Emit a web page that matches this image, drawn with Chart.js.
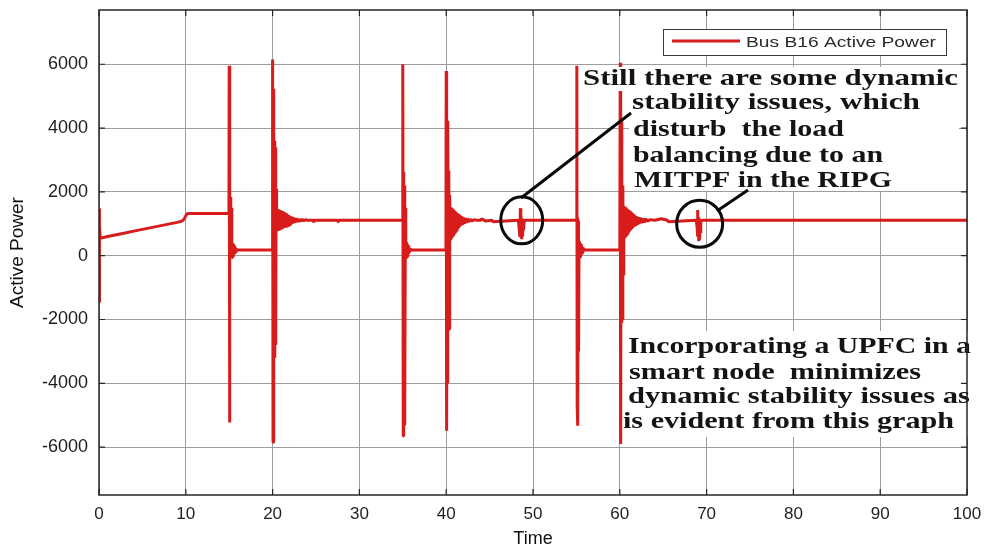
<!DOCTYPE html>
<html>
<head>
<meta charset="utf-8">
<script src="https://cdn.jsdelivr.net/npm/chart.js@4.4.1/dist/chart.umd.min.js"></script>
<style>
html,body{margin:0;padding:0;background:#fff;}
#wrap{width:989px;height:547px;position:relative;}
</style>
</head>
<body>
<div id="wrap"><canvas id="c" width="989" height="547"></canvas></div>
<script>
// Axis ticks
const timeTicks = [0, 10, 20, 30, 40, 50, 60, 70, 80, 90, 100];
const powerTicks = [-6000, -4000, -2000, 0, 2000, 4000, 6000];

// Bus B16 active power, one pair of arrays per switching event (time, power)
const startT = [0, 0.02, 0.05, 0.08, 0.15, 1, 2, 3, 4, 5, 6, 7, 8, 9, 9.4, 9.7, 9.9, 10.1, 10.3, 14.97];
const startP = [600, 1480, -1470, 900, 545, 600, 655, 710, 770, 825, 880, 935, 990, 1045, 1070, 1110, 1200, 1300, 1325, 1325];

const ev15T = [15.0, 15.04, 15.08, 15.12, 15.16, 15.2, 15.24, 15.28, 15.32, 15.36, 15.4, 15.44, 15.48, 15.52, 15.56, 15.6, 15.64, 15.68, 15.72, 15.78, 15.84, 15.9, 16.0, 19.97];
const ev15P = [5950, -5230, 1850, 280, 1840, 300, 1500, -80, 420, -60, 400, -20, 360, 20, 320, 60, 290, 90, 260, 130, 220, 170, 180, 180];

const ev20T = [20.0, 20.05, 20.1, 20.15, 20.2, 20.25, 20.3, 20.35, 20.4, 20.46, 20.52, 20.58, 20.64, 20.7, 20.76, 20.82, 20.88, 20.94,
               21.0, 21.06, 21.12, 21.18, 21.24, 21.3, 21.36, 21.42, 21.48, 21.54, 21.6, 21.66, 21.72, 21.78, 21.84, 21.9, 21.96, 22.02,
               22.1, 22.2, 22.3, 22.4, 22.5, 22.6, 22.75, 22.9, 23.05, 23.2, 23.4, 23.6, 23.8, 24.0, 24.7, 24.75, 24.8, 27.5, 27.55, 27.6, 34.97];
const ev20P = [6150, -5850, 5230, -3250, 3600, -3200, 3400, -2800, 2100, 760, 1460, 770, 1450, 780, 1430, 800, 1420, 810,
               1400, 830, 1390, 850, 1370, 870, 1350, 880, 1330, 900, 1310, 920, 1290, 940, 1270, 960, 1250, 980,
               1230, 1000, 1210, 1020, 1190, 1040, 1170, 1060, 1150, 1080, 1140, 1090, 1130, 1110, 1110, 1040, 1110, 1110, 1060, 1110, 1110];

const ev35T = [35.0, 35.05, 35.1, 35.15, 35.2, 35.25, 35.3, 35.34, 35.38, 35.42, 35.46, 35.5, 35.54, 35.58, 35.62, 35.66, 35.7, 35.76, 35.82, 35.9, 36.0, 39.97];
const ev35P = [6000, -5650, 2620, -5300, 2200, -4800, 1500, -100, 420, -70, 400, -30, 360, 10, 320, 60, 280, 120, 230, 170, 180, 180];

const ev40T = [40.0, 40.05, 40.1, 40.15, 40.2, 40.25, 40.3, 40.35, 40.4, 40.46, 40.52, 40.58, 40.64, 40.7, 40.76, 40.82, 40.88, 40.94,
               41.0, 41.06, 41.12, 41.18, 41.24, 41.3, 41.36, 41.42, 41.48, 41.54, 41.6, 41.7, 41.8, 41.9, 42.0, 42.1, 42.2, 42.35,
               42.5, 42.65, 42.8, 43.0, 43.2, 43.5, 44.0, 44.05, 44.5, 45.3, 45.35, 48.3];
const ev40P = [5790, -5490, 2700, -4000, 4230, -2330, 2670, -2300, 1900, 500, 1520, 560, 1500, 600, 1470, 650, 1440, 700,
               1400, 740, 1370, 780, 1340, 820, 1310, 860, 1280, 900, 1250, 940, 1220, 970, 1200, 1000, 1180, 1030,
               1160, 1060, 1140, 1080, 1130, 1110, 1110, 1160, 1090, 1110, 1060, 1110];

const dist49T = [48.4, 48.45, 48.5, 48.55, 48.6, 48.65, 48.7, 48.75, 48.8, 48.85, 48.9, 49.0, 55.0];
const dist49P = [900, 1150, 600, 1490, 560, 1180, 520, 1150, 600, 1100, 800, 1110, 1110];

const ev55T = [55.05, 55.09, 55.13, 55.17, 55.21, 55.25, 55.3, 55.34, 55.38, 55.42, 55.46, 55.5, 55.54, 55.58, 55.62, 55.66, 55.7, 55.76, 55.82, 55.9, 56.0, 60.0];
const ev55P = [5950, -4700, 1200, -5330, 1100, -3000, 450, -80, 430, -40, 390, 0, 350, 40, 310, 80, 270, 120, 230, 170, 180, 180];

const ev60T = [60.05, 60.1, 60.15, 60.2, 60.25, 60.3, 60.35, 60.4, 60.46, 60.52, 60.58, 60.64, 60.7, 60.76, 60.82, 60.88, 60.94,
               61.0, 61.06, 61.12, 61.18, 61.24, 61.3, 61.36, 61.42, 61.48, 61.54, 61.6, 61.7, 61.8, 61.9, 62.0, 62.1, 62.2, 62.35,
               62.5, 62.65, 62.8, 63.0, 63.2, 63.5, 64.0, 64.05, 64.8, 65.5, 65.55, 68.8];
const ev60P = [6050, -5900, 4230, -2100, 2670, -2000, 2200, -600, 1560, 560, 1540, 600, 1510, 640, 1480, 680, 1450,
               720, 1420, 760, 1390, 800, 1360, 840, 1330, 870, 1300, 900, 1270, 930, 1240, 960, 1210, 990, 1190,
               1020, 1170, 1050, 1150, 1080, 1130, 1110, 1110, 1160, 1110, 1060, 1110];

const dist69T = [68.9, 68.95, 69.0, 69.05, 69.1, 69.15, 69.2, 69.25, 69.3, 69.35, 69.45, 100];
const dist69P = [900, 1430, 600, 1200, 450, 1150, 500, 1100, 700, 1050, 1110, 1110];

// Disturbances that are circled and explained by the notes
const circled = [{t: 48.7, p: 1110}, {t: 69.2, p: 1000}];

const seriesLabel = 'Bus B16 Active Power';
const noteTop = ['Still there are some dynamic', 'stability issues, which', 'disturb  the load', 'balancing due to an', 'MITPF in the RIPG'];
const noteBottom = ['Incorporating a UPFC in a', 'smart node  minimizes', 'dynamic stability issues as', 'is evident from this graph'];

const segments = [[startT, startP], [ev15T, ev15P], [ev20T, ev20P], [ev35T, ev35P], [ev40T, ev40P],
                  [dist49T, dist49P], [ev55T, ev55P], [ev60T, ev60P], [dist69T, dist69P]];
const points = [];
segments.forEach(([ts, ps]) => ts.forEach((t, i) => points.push({x: t, y: ps[i]})));

const RED = '#d81b1b';
const GRID = '#9c9c9c';
const SANS = '"Liberation Sans", Arial, sans-serif';
const SERIF = '"Liberation Serif", "Times New Roman", serif';

// draw a text line squeezed/stretched to a given width
function fitText(ctx, str, left, baseline, width) {
  const w = ctx.measureText(str).width;
  ctx.save();
  ctx.translate(left, baseline);
  ctx.scale(width / w, 1);
  ctx.fillText(str, 0, 0);
  ctx.restore();
}

const overlay = {
  id: 'overlay',
  afterDraw(chart) {
    const {ctx, chartArea: a, scales: {x, y}} = chart;
    ctx.save();

    // white panels behind the notes
    ctx.fillStyle = '#fff';
    ctx.fillRect(581, 67, 378, 24);
    ctx.fillRect(629, 91, 330, 100);
    ctx.fillRect(623, 331, 360, 106);

    // notes
    ctx.fillStyle = '#141414';
    ctx.font = 'bold 23px ' + SERIF;
    ctx.textBaseline = 'alphabetic';
    const topLayout = [[583, 85, 375], [632, 109, 288], [633, 136, 211], [633, 162, 250], [634, 187, 258]];
    noteTop.forEach((s, i) => fitText(ctx, s, ...topLayout[i]));
    ctx.font = 'bold 24px ' + SERIF;
    const botLayout = [[628, 353, 343], [629, 379, 292], [628, 403, 342], [623, 428, 331]];
    noteBottom.forEach((s, i) => fitText(ctx, s, ...botLayout[i]));

    // circles round the disturbances and leader lines to the note
    ctx.strokeStyle = '#0a0a0a';
    ctx.lineWidth = 3;
    const radii = [[21, 23.5], [23, 23.5]];
    circled.forEach((c, i) => {
      ctx.beginPath();
      ctx.ellipse(x.getPixelForValue(c.t), y.getPixelForValue(c.p), radii[i][0], radii[i][1], 0, 0, Math.PI * 2);
      ctx.stroke();
    });
    ctx.beginPath();
    ctx.moveTo(521, 198); ctx.lineTo(631, 113);
    ctx.moveTo(717, 211); ctx.lineTo(748, 190);
    ctx.stroke();

    // axes box with inward tick marks
    ctx.strokeStyle = '#262626';
    ctx.lineWidth = 1.5;
    ctx.strokeRect(a.left, a.top, a.right - a.left, a.bottom - a.top);
    ctx.lineWidth = 1.2;
    ctx.beginPath();
    timeTicks.forEach(t => {
      const px = x.getPixelForValue(t);
      ctx.moveTo(px, a.bottom); ctx.lineTo(px, a.bottom - 6);
      ctx.moveTo(px, a.top); ctx.lineTo(px, a.top + 6);
    });
    powerTicks.forEach(p => {
      const py = y.getPixelForValue(p);
      ctx.moveTo(a.left, py); ctx.lineTo(a.left + 6, py);
      ctx.moveTo(a.right, py); ctx.lineTo(a.right - 6, py);
    });
    ctx.stroke();

    // legend
    const ds = chart.data.datasets[0];
    ctx.fillStyle = '#fff';
    ctx.fillRect(663, 29, 283, 26);
    ctx.strokeStyle = '#3a3a3a';
    ctx.lineWidth = 1;
    ctx.strokeRect(663.5, 29.5, 283, 26);
    ctx.strokeStyle = ds.borderColor;
    ctx.lineWidth = 3;
    ctx.beginPath();
    ctx.moveTo(672, 41); ctx.lineTo(740, 41);
    ctx.stroke();
    ctx.fillStyle = '#2a2a2a';
    ctx.font = '15px ' + SANS;
    fitText(ctx, ds.label, 746, 47, 190);

    ctx.restore();
  }
};

new Chart(document.getElementById('c'), {
  type: 'line',
  data: {
    datasets: [{
      label: seriesLabel,
      data: points,
      borderColor: RED,
      backgroundColor: RED,
      borderWidth: 3,
      borderJoinStyle: 'bevel',
      pointRadius: 0,
      tension: 0,
      fill: false
    }]
  },
  options: {
    responsive: false,
    animation: false,
    layout: {padding: {top: 10, right: 22, left: 0, bottom: 0}},
    plugins: {legend: {display: false}, tooltip: {enabled: false}},
    scales: {
      x: {
        type: 'linear', min: 0, max: 100,
        afterBuildTicks: s => { s.ticks = timeTicks.map(v => ({value: v})); },
        afterFit: s => { s.height = 52; s.paddingLeft = 0; s.paddingRight = 0; },
        grid: {color: GRID, lineWidth: 1, drawTicks: false},
        border: {display: false},
        ticks: {padding: 9, color: '#1e1e1e', font: {family: SANS, size: 17}, maxRotation: 0, autoSkip: false, callback: v => String(v)},
        title: {display: true, text: 'Time', color: '#111', font: {family: SANS, size: 18, lineHeight: 1}, padding: {top: 0, bottom: -1}}
      },
      y: {
        min: -7500, max: 7700,
        afterBuildTicks: s => { s.ticks = powerTicks.map(v => ({value: v})); },
        afterFit: s => { s.width = 99; s.paddingTop = 0; s.paddingBottom = 0; },
        grid: {color: GRID, lineWidth: 1, drawTicks: false},
        border: {display: false},
        ticks: {padding: 11, color: '#1e1e1e', font: {family: SANS, size: 18}, autoSkip: false, callback: v => String(v)},
        title: {display: true, text: 'Active Power', color: '#111', font: {family: SANS, size: 19}, padding: {top: 6, bottom: 0}}
      }
    }
  },
  plugins: [overlay]
});
</script>
</body>
</html>
